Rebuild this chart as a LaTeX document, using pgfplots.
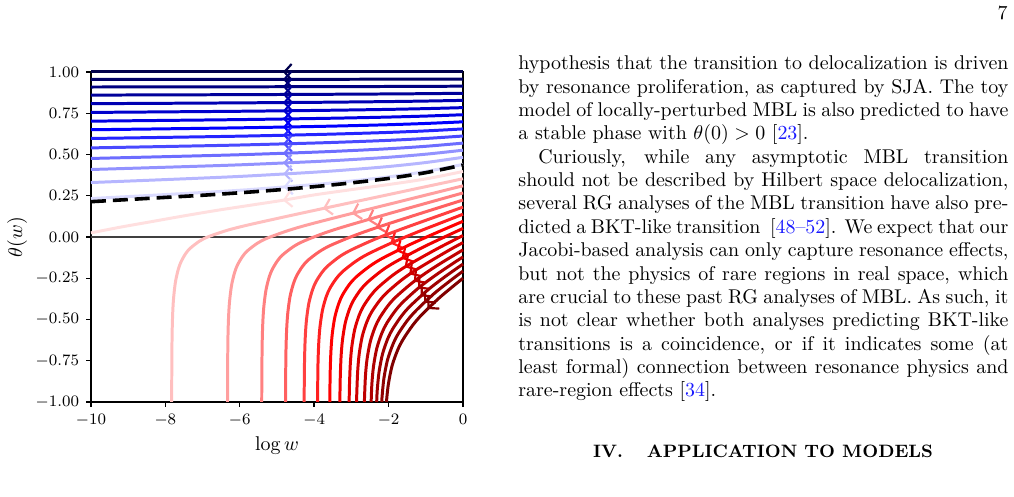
\documentclass[border=0pt]{standalone}
\usepackage{pgfplots}
\pgfplotsset{compat=1.18}
\usetikzlibrary{decorations.markings,arrows.meta}
% seismic colormap samples
\definecolor{b1}{rgb}{0.857,0.857,1}
\definecolor{b2}{rgb}{0.714,0.714,1}
\definecolor{b3}{rgb}{0.571,0.571,1}
\definecolor{b4}{rgb}{0.429,0.429,1}
\definecolor{b5}{rgb}{0.286,0.286,1}
\definecolor{b6}{rgb}{0.143,0.143,1}
\definecolor{b7}{rgb}{0,0,1}
\definecolor{b8}{rgb}{0,0,0.9}
\definecolor{b9}{rgb}{0,0,0.8}
\definecolor{b10}{rgb}{0,0,0.7}
\definecolor{b11}{rgb}{0,0,0.6}
\definecolor{b12}{rgb}{0,0,0.5}
\definecolor{b13}{rgb}{0,0,0.4}
\definecolor{b14}{rgb}{0,0,0.3}
\definecolor{r1}{rgb}{1,0.875,0.875}
\definecolor{r2}{rgb}{1,0.75,0.75}
\definecolor{r3}{rgb}{1,0.625,0.625}
\definecolor{r4}{rgb}{1,0.5,0.5}
\definecolor{r5}{rgb}{1,0.375,0.375}
\definecolor{r6}{rgb}{1,0.25,0.25}
\definecolor{r7}{rgb}{1,0.125,0.125}
\definecolor{r8}{rgb}{1,0,0}
\definecolor{r9}{rgb}{0.9375,0,0}
\definecolor{r10}{rgb}{0.875,0,0}
\definecolor{r11}{rgb}{0.8125,0,0}
\definecolor{r12}{rgb}{0.75,0,0}
\definecolor{r13}{rgb}{0.6875,0,0}
\definecolor{r14}{rgb}{0.625,0,0}
\definecolor{r15}{rgb}{0.5625,0,0}
\definecolor{r16}{rgb}{0.5,0,0}
\definecolor{linkblue}{rgb}{0.1,0.1,1}
\pgfplotsset{
  flow/.style={smooth, line width=1.5pt, no marks},
  arr/.style={postaction={decorate,decoration={markings,mark=at position #1 with {\arrow{Straight Barb[length=3.6pt,width=8pt,line width=1.1pt]}}}}},
}
\newcommand{\jline}[2]{\node[anchor=base west,inner sep=0pt] at (#1) {\makebox[245.98pt][s]{#2}};}
\begin{document}
\begin{tikzpicture}
\path[use as bounding box] (0,0) rectangle (509.03pt,249.49pt);
\begin{axis}[
  at={(45.68pt,47.69pt)}, anchor=south west,
  width=186.74pt, height=165.66pt, scale only axis,
  xmin=-10, xmax=0, ymin=-1, ymax=1,
  clip=false,
  xtick={-10,-8,-6,-4,-2,0},
  ytick={-1,-0.75,-0.5,-0.25,0,0.25,0.5,0.75,1},
  yticklabel style={/pgf/number format/.cd, fixed, fixed zerofill, precision=2},
  tick label style={font=\fontsize{8.2}{9}\selectfont},
  tick align=outside, tick pos=left,
  major tick length=2.5pt,
  every tick/.style={black, line width=0.7pt},
  axis line style={line width=0.7pt},
  xlabel={$\log w$}, ylabel={$\theta(w)$},
  label style={font=\fontsize{10}{12}\selectfont},
  ylabel shift=-2.5pt, xlabel shift=-1.5pt,
]
\addplot[black!75, line width=0.6pt] coordinates {(-10,0) (0,0)};
% blue flows (stable phase)
\addplot[flow, b14, arr=0.484] coordinates {(0,1) (-5,1) (-10,1)};
\addplot[flow, b13, arr=0.484] coordinates {(0,0.957) (-1,0.9566) (-2,0.9563) (-3,0.956) (-4,0.9558) (-6,0.9555) (-8,0.9552) (-10,0.955)};
\addplot[flow, b12, arr=0.484] coordinates {(0,0.914) (-1,0.913) (-2,0.9122) (-3,0.9116) (-4,0.9111) (-6,0.9102) (-8,0.9096) (-10,0.909)};
\addplot[flow, b11, arr=0.484] coordinates {(0,0.871) (-1,0.8687) (-2,0.867) (-3,0.8657) (-4,0.8645) (-6,0.8627) (-8,0.8613) (-10,0.860)};
\addplot[flow, b10, arr=0.484] coordinates {(0,0.828) (-1,0.8239) (-2,0.8207) (-3,0.8183) (-4,0.8162) (-6,0.8129) (-8,0.8103) (-10,0.808)};
\addplot[flow, b9, arr=0.484] coordinates {(0,0.784) (-1,0.778) (-2,0.7734) (-3,0.7699) (-4,0.7669) (-6,0.762) (-8,0.7584) (-10,0.755)};
\addplot[flow, b8, arr=0.484] coordinates {(0,0.741) (-1,0.7329) (-2,0.7268) (-3,0.722) (-4,0.718) (-6,0.7115) (-8,0.7066) (-10,0.702)};
\addplot[flow, b7, arr=0.484] coordinates {(0,0.698) (-1,0.6881) (-2,0.6805) (-3,0.6747) (-4,0.6697) (-6,0.6617) (-8,0.6556) (-10,0.650)};
\addplot[flow, b6, arr=0.484] coordinates {(0,0.655) (-1,0.643) (-2,0.6338) (-3,0.6268) (-4,0.6208) (-6,0.6111) (-8,0.6038) (-10,0.597)};
\addplot[flow, b5, arr=0.484] coordinates {(0,0.612) (-1,0.5971) (-2,0.5857) (-3,0.577) (-4,0.5695) (-6,0.5575) (-8,0.5484) (-10,0.540)};
\addplot[flow, b4, arr=0.484] coordinates {(0,0.569) (-1,0.5497) (-2,0.535) (-3,0.5238) (-4,0.5141) (-6,0.4986) (-8,0.4869) (-10,0.476)};
\addplot[flow, b3, arr=0.484] coordinates {(0,0.526) (-1,0.5018) (-2,0.4833) (-3,0.4691) (-4,0.457) (-6,0.4374) (-8,0.4227) (-10,0.409)};
\addplot[flow, b2, arr=0.484] coordinates {(0,0.483) (-1,0.4513) (-2,0.4272) (-3,0.4086) (-4,0.3927) (-6,0.3672) (-8,0.3479) (-10,0.330)};
\addplot[flow, b1, arr=0.484] coordinates {(0,0.440) (-1,0.3972) (-2,0.3644) (-3,0.3394) (-4,0.3179) (-6,0.2833) (-8,0.2572) (-10,0.233)};
% red flows (delocalized)
\addplot[flow, r1, arr=0.484] coordinates {(0,0.397) (-1,0.352) (-2,0.318) (-3,0.287) (-4,0.255) (-4.8,0.224) (-5.7,0.193) (-6.6,0.162) (-7.5,0.128) (-8.4,0.092) (-9.2,0.06) (-10,0.025)};
\addplot[flow, r2, arr=0.325] coordinates {(0,0.353) (-2,0.257) (-4,0.161) (-5,0.112) (-5.831,0.070) (-6.331,0.041) (-6.831,0.003) (-7.081,-0.025) (-7.331,-0.068) (-7.456,-0.101) (-7.581,-0.151) (-7.656,-0.198) (-7.731,-0.274) (-7.781,-0.374) (-7.806,-0.475) (-7.821,-0.610) (-7.8285,-0.818) (-7.8305,-1)};
\addplot[flow, r3, arr=0.30] coordinates {(0,0.310) (-1,0.254) (-2,0.198) (-3,0.142) (-4.171,0.074) (-4.711,0.038) (-5.251,-0.006) (-5.521,-0.037) (-5.791,-0.083) (-5.926,-0.118) (-6.061,-0.169) (-6.142,-0.217) (-6.223,-0.295) (-6.277,-0.395) (-6.304,-0.496) (-6.3202,-0.632) (-6.3283,-0.839) (-6.3304,-1)};
\addplot[flow, r4, arr=0.29] coordinates {(0,0.267) (-1,0.204) (-2,0.141) (-3.131,0.067) (-3.701,0.026) (-4.271,-0.024) (-4.556,-0.058) (-4.841,-0.107) (-4.9835,-0.143) (-5.126,-0.196) (-5.2115,-0.244) (-5.297,-0.323) (-5.354,-0.423) (-5.3825,-0.525) (-5.3996,-0.661) (-5.4082,-0.869) (-5.4101,-1)};
\addplot[flow, r5, arr=0.29] coordinates {(0,0.224) (-1,0.153) (-1.5,0.117) (-2.332,0.056) (-2.942,0.007) (-3.552,-0.050) (-3.857,-0.088) (-4.162,-0.140) (-4.3145,-0.178) (-4.467,-0.233) (-4.5585,-0.283) (-4.65,-0.362) (-4.711,-0.464) (-4.7415,-0.566) (-4.7598,-0.702) (-4.769,-0.910) (-4.7705,-1)};
\addplot[flow, r6, arr=0.29] coordinates {(0,0.181) (-1,0.101) (-1.712,0.043) (-2.352,-0.012) (-2.992,-0.077) (-3.312,-0.118) (-3.632,-0.175) (-3.792,-0.215) (-3.952,-0.271) (-4.048,-0.322) (-4.144,-0.402) (-4.208,-0.504) (-4.24,-0.607) (-4.2592,-0.744) (-4.2688,-0.951) (-4.2698,-1)};
\addplot[flow, r7, arr=0.29] coordinates {(0,0.138) (-0.6,0.085) (-1.193,0.033) (-1.873,-0.031) (-2.553,-0.103) (-2.893,-0.149) (-3.233,-0.209) (-3.403,-0.251) (-3.573,-0.309) (-3.675,-0.361) (-3.777,-0.443) (-3.845,-0.546) (-3.879,-0.649) (-3.8994,-0.785) (-3.9096,-1)};
\addplot[flow, r8, arr=0.29] coordinates {(0,0.095) (-0.745,0.023) (-1.455,-0.049) (-2.165,-0.129) (-2.52,-0.179) (-2.875,-0.243) (-3.0525,-0.287) (-3.23,-0.348) (-3.3365,-0.401) (-3.443,-0.484) (-3.514,-0.587) (-3.5495,-0.691) (-3.5708,-0.828) (-3.5803,-1)};
\addplot[flow, r9, arr=0.29] coordinates {(0,0.052) (-0.316,0.019) (-1.066,-0.061) (-1.816,-0.151) (-2.191,-0.205) (-2.566,-0.274) (-2.7535,-0.320) (-2.941,-0.383) (-3.0535,-0.438) (-3.166,-0.522) (-3.241,-0.627) (-3.2785,-0.730) (-3.301,-0.868) (-3.3098,-1)};
\addplot[flow, r10, arr=0.30] coordinates {(0,0.009) (-0.699,-0.072) (-1.489,-0.172) (-1.884,-0.231) (-2.279,-0.305) (-2.4765,-0.354) (-2.674,-0.419) (-2.7925,-0.475) (-2.911,-0.561) (-2.99,-0.667) (-3.0295,-0.771) (-3.0532,-0.909) (-3.0594,-1)};
\addplot[flow, r11, arr=0.30] coordinates {(0,-0.034) (-0.412,-0.085) (-1.232,-0.195) (-1.642,-0.259) (-2.052,-0.338) (-2.257,-0.390) (-2.462,-0.457) (-2.585,-0.515) (-2.708,-0.602) (-2.79,-0.709) (-2.831,-0.814) (-2.8556,-0.952) (-2.8595,-1)};
\addplot[flow, r12, arr=0.30] coordinates {(0,-0.078) (-0.517,-0.148) (-0.947,-0.210) (-1.377,-0.280) (-1.807,-0.364) (-2.022,-0.418) (-2.237,-0.489) (-2.366,-0.548) (-2.495,-0.637) (-2.581,-0.744) (-2.624,-0.850) (-2.651,-1)};
\addplot[flow, r13, arr=0.30] coordinates {(0,-0.121) (-0.268,-0.160) (-0.713,-0.228) (-1.158,-0.302) (-1.603,-0.392) (-1.8255,-0.449) (-2.048,-0.522) (-2.1815,-0.583) (-2.315,-0.673) (-2.404,-0.782) (-2.4485,-0.888) (-2.4687,-1)};
\addplot[flow, r14, arr=0.31] coordinates {(0,-0.164) (-0.491,-0.242) (-0.956,-0.323) (-1.421,-0.419) (-1.6535,-0.479) (-1.886,-0.556) (-2.0255,-0.618) (-2.165,-0.711) (-2.258,-0.821) (-2.3045,-0.927) (-2.320,-1)};
\addplot[flow, r15, arr=0.31] coordinates {(0,-0.207) (-0.302,-0.258) (-0.782,-0.344) (-1.262,-0.446) (-1.502,-0.508) (-1.742,-0.587) (-1.886,-0.652) (-2.03,-0.746) (-2.126,-0.857) (-2.174,-0.964) (-2.183,-1)};
\addplot[flow, r16, arr=0.31] coordinates {(0,-0.25) (-0.608,-0.363) (-1.108,-0.471) (-1.358,-0.537) (-1.608,-0.620) (-1.758,-0.686) (-1.908,-0.782) (-2.008,-0.895) (-2.058,-1.0)};
% separatrix
\addplot[smooth, black, line width=1.8pt, dash pattern=on 7.5pt off 3.5pt] coordinates {(-10,0.214) (-9,0.227) (-8,0.240) (-7,0.253) (-6,0.268) (-5,0.285) (-4,0.305) (-3,0.328) (-2,0.355) (-1,0.39) (0,0.436)};
\end{axis}
% page number
\node[anchor=base east,inner sep=0pt] at (506.02pt,239.7pt) {7};
% text column
\jline{260.04pt,214.35pt}{hypothesis that the transition to delocalization is driven}
\jline{260.04pt,202.66pt}{by resonance proliferation, as captured by SJA. The toy}
\jline{260.04pt,190.91pt}{model of locally-perturbed MBL is also predicted to have}
\node[anchor=base west,inner sep=0pt] at (260.04pt,179.21pt) {a stable phase with $\theta(0)>0$ [\textcolor{linkblue}{23}].};
\node[anchor=base west,inner sep=0pt] at (270.04pt,167.52pt) {\makebox[235.98pt][s]{Curiously, while any asymptotic MBL transition}};
\jline{260.04pt,155.77pt}{should not be described by Hilbert space delocalization,}
\jline{260.04pt,144.07pt}{several RG analyses of the MBL transition have also pre-}
\jline{260.04pt,132.38pt}{dicted a BKT-like transition\ \ [\textcolor{linkblue}{48--52}]. We expect that our}
\jline{260.04pt,120.63pt}{Jacobi-based analysis can only capture resonance effects,}
\jline{260.04pt,108.93pt}{but not the physics of rare regions in real space, which}
\jline{260.04pt,97.24pt}{are crucial to these past RG analyses of MBL. As such, it}
\jline{260.04pt,85.49pt}{is not clear whether both analyses predicting BKT-like}
\jline{260.04pt,73.79pt}{transitions is a coincidence, or if it indicates some (at}
\jline{260.04pt,62.10pt}{least formal) connection between resonance physics and}
\node[anchor=base west,inner sep=0pt] at (260.04pt,50.35pt) {rare-region effects [\textcolor{linkblue}{34}].};
\node[anchor=base,inner sep=0pt] at (383.03pt,19.58pt) {\fontsize{9}{11}\selectfont\bfseries IV.\hspace{12pt}APPLICATION TO MODELS};
\end{tikzpicture}
\end{document}
